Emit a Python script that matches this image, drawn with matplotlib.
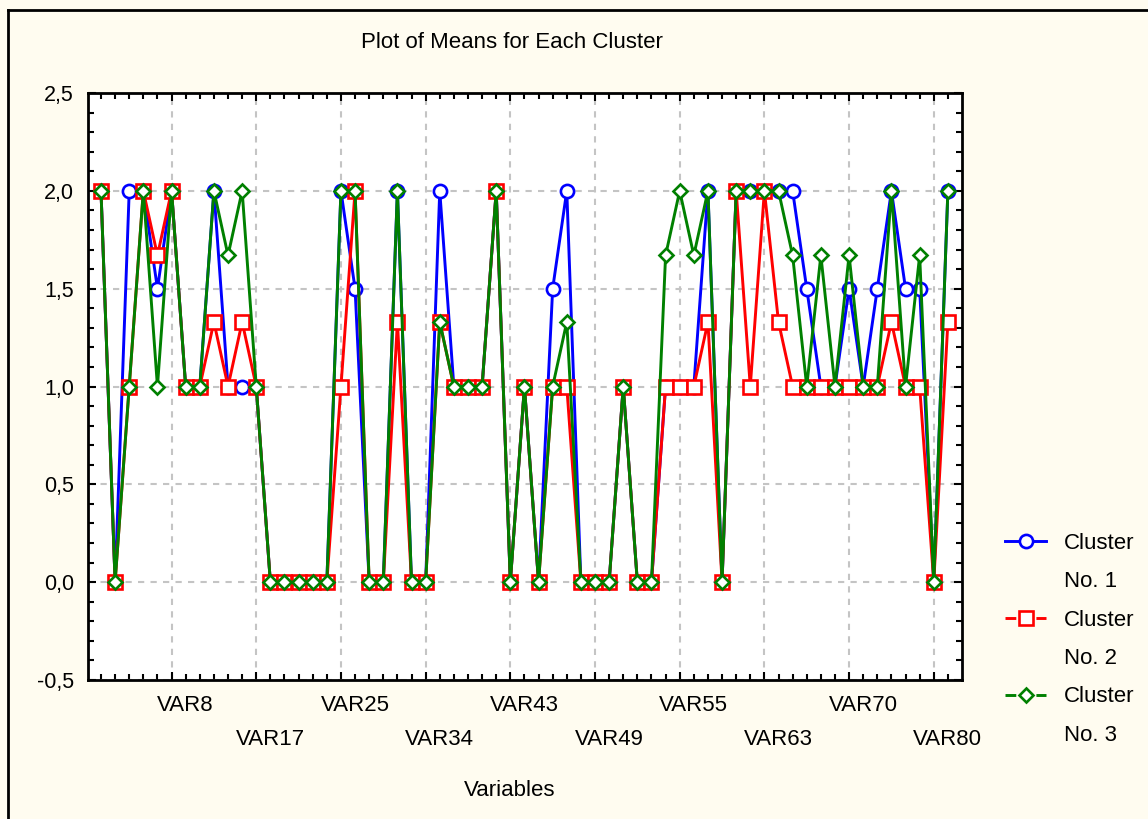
import matplotlib.pyplot as plt
from matplotlib.lines import Line2D
from matplotlib.ticker import MultipleLocator, FuncFormatter
import numpy as np

# cluster means per variable (61 variables)
c1 = [2, 0, 2, 2, 1.5, 2, 1, 1, 2, 1, 1, 1,
      0, 0, 0, 0, 0, 2, 1.5, 0, 0, 2, 0, 0, 2, 1, 1, 1, 2, 0,
      1, 0, 1.5, 2, 0, 0, 0, 1, 0, 0,
      1, 1, 1, 2, 0, 2, 2, 2, 2, 2,
      1.5, 1, 1, 1.5, 1, 1.5, 2, 1.5, 1.5, 0, 2]
c2 = [2, 0, 1, 2, 1.67, 2, 1, 1, 1.33, 1, 1.33, 1,
      0, 0, 0, 0, 0, 1, 2, 0, 0, 1.33, 0, 0, 1.33, 1, 1, 1, 2, 0,
      1, 0, 1, 1, 0, 0, 0, 1, 0, 0,
      1, 1, 1, 1.33, 0, 2, 1, 2, 1.33, 1,
      1, 1, 1, 1, 1, 1, 1.33, 1, 1, 0, 1.33]
c3 = [2, 0, 1, 2, 1, 2, 1, 1, 2, 1.67, 2, 1,
      0, 0, 0, 0, 0, 2, 2, 0, 0, 2, 0, 0, 1.33, 1, 1, 1, 2, 0,
      1, 0, 1, 1.33, 0, 0, 0, 1, 0, 0,
      1.67, 2, 1.67, 2, 0, 2, 2, 2, 2, 1.67,
      1, 1.67, 1, 1.67, 1, 1, 2, 1, 1.67, 0, 2]

var_labels = ['VAR8', 'VAR17', 'VAR25', 'VAR34', 'VAR43',
              'VAR49', 'VAR55', 'VAR63', 'VAR70', 'VAR80']
label_idx = [6, 12, 18, 24, 30, 36, 42, 48, 54, 60]
grid_idx = [5, 11, 17, 23, 29, 35, 41, 47, 53, 59]

plt.rcParams['font.family'] = ['Liberation Sans', 'DejaVu Sans']

W, H = 1148, 819
fig = plt.figure(figsize=(W / 100, H / 100), dpi=100, facecolor='#fffcf0')
ax = fig.add_axes([88 / W, 1 - 680 / H, (962 - 88) / W, (680 - 93) / H])
ax.set_facecolor('white')

lw, mew = 2.1, 1.9
x = np.arange(len(c1))
ax.plot(x, c1, color='blue', lw=lw, marker='o', ms=9.5, mfc='white', mew=mew, zorder=3)
ax.plot(x, c2, color='red', lw=lw, marker='s', ms=9.5, mfc='white', mew=mew, zorder=4)
ax.plot(x, c3, color='green', lw=lw, marker='D', ms=7.5, mfc='white', mew=mew, zorder=5)

ax.set_xlim(-0.92, 61)
ax.set_ylim(-0.5, 2.5)
ax.set_xticks(grid_idx)
ax.set_xticklabels([])
ax.set_xticks(x, minor=True)
ax.yaxis.set_major_locator(MultipleLocator(0.5))
ax.yaxis.set_minor_locator(MultipleLocator(0.1))
ax.yaxis.set_major_formatter(FuncFormatter(lambda v, p: f'{v:.1f}'.replace('.', ',')))
ax.grid(True, color='#c4c4c4', ls=(0, (3, 3)), lw=1.5, zorder=1)

ax.tick_params(which='both', direction='in', top=True, right=True, width=1.5)
ax.tick_params(which='major', length=6, labelsize=15.5, pad=10)
ax.tick_params(which='minor', length=4)
for s in ax.spines.values():
    s.set_linewidth(2)

# staggered variable labels
for k, (pos, lab) in enumerate(zip(label_idx, var_labels)):
    yy = -0.043 if k % 2 == 0 else -0.102
    ax.text(pos, yy, lab, transform=ax.get_xaxis_transform(),
            ha='center', va='center', fontsize=16)

fig.text(512 / W, 1 - 42 / H, 'Plot of Means for Each Cluster',
         ha='center', va='center', fontsize=16)
fig.text(510 / W, 1 - 790 / H, 'Variables', ha='center', va='center', fontsize=16)

# legend
h1 = Line2D([], [], color='blue', lw=lw, marker='o', ms=9.5, mfc='white', mew=mew)
h2 = Line2D([], [], color='red', lw=lw, ls='--', marker='s', ms=9.5, mfc='white', mew=mew)
h3 = Line2D([], [], color='green', lw=lw, ls='--', marker='D', ms=7.5, mfc='white', mew=mew)
blank = Line2D([], [], ls='none')
fig.legend([h1, blank, h2, blank, h3, blank],
           ['Cluster', 'No. 1', 'Cluster', 'No. 2', 'Cluster', 'No. 3'],
           loc='upper left', bbox_to_anchor=(1005 / W, 1 - 533 / H),
           frameon=False, fontsize=16, handlelength=1.85, handletextpad=0.8,
           labelspacing=0.78, borderpad=0, borderaxespad=0)

# outer frame
fig.add_artist(Line2D([8 / W, 8 / W], [0, 1 - 10 / H], color='black', lw=2,
                      transform=fig.transFigure))
fig.add_artist(Line2D([8 / W, 1], [1 - 10 / H, 1 - 10 / H], color='black', lw=2,
                      transform=fig.transFigure))

fig.savefig('out.png', dpi=100, facecolor=fig.get_facecolor())
